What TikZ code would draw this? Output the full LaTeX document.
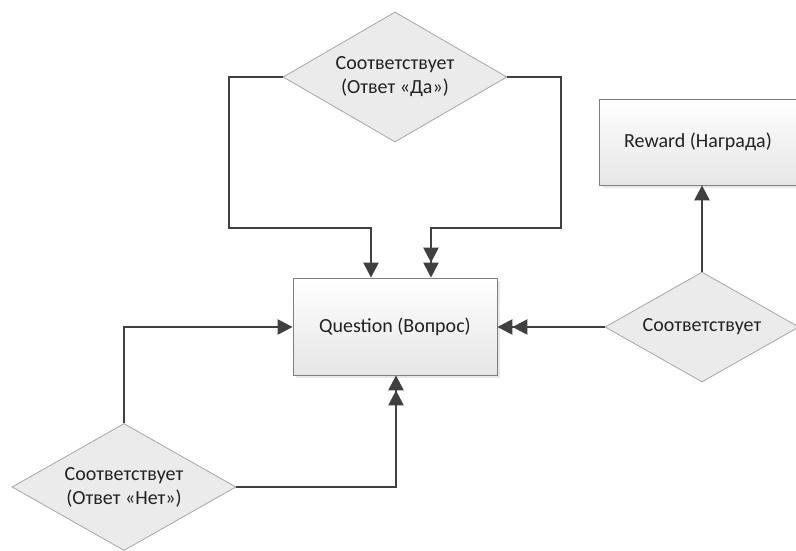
\documentclass[tikz,border=0pt]{standalone}
\usepackage{fontspec}
\setmainfont{Carlito}
\usetikzlibrary{shapes.geometric,arrows.meta,shadows}
\definecolor{linec}{HTML}{404040}
\definecolor{diafill}{HTML}{EBEBEB}
\definecolor{diadraw}{HTML}{A6A6A6}
\definecolor{boxdraw}{HTML}{7F7F7F}
\definecolor{textc}{HTML}{222222}
\tikzset{
  procbox/.style={draw=boxdraw, line width=0.8pt, top color=white, bottom color=black!10,
    drop shadow={shadow xshift=3pt, shadow yshift=-3pt, fill=black!15, opacity=0.6},
    text=textc, font=\fontsize{20}{24}\selectfont, align=center},
  decision/.style={diamond, aspect=2, draw=diadraw, fill=diafill, line width=0.8pt, inner sep=0pt,
    text=textc, font=\fontsize{20}{24}\selectfont, align=center},
  flow/.style={draw=linec, line width=2.4pt,
    -{Triangle[length=15pt,width=15pt]}},
  flowtwo/.style={draw=linec, line width=2.4pt,
    -{Triangle[length=15pt,width=15pt]Triangle[length=15pt,width=15pt]}},
}
\begin{document}
\begin{tikzpicture}[x=1pt,y=-1pt]
\useasboundingbox (0,0) rectangle (796,551);
\fill[white] (0,0) rectangle (796,551);

% boxes
\node[procbox, minimum width=204pt, minimum height=97pt] (question) at (395,326.5) {Question (Вопрос)};
\node[procbox, minimum width=197pt, minimum height=86pt] (reward) at (698,142) {Reward (Награда)};

% decisions
\node[decision, minimum width=224pt, minimum height=130pt] (yes) at (395,77) {Соответствует\\(Ответ «Да»)};
\node[decision, minimum width=194pt, minimum height=110pt] (match) at (702,327) {Соответствует};
\node[decision, minimum width=224pt, minimum height=127pt] (no) at (124,487) {Соответствует\\(Ответ «Нет»)};

% connectors
\draw[flow] (yes.west) -| (229,228) -| (question.north -| 371,0);
\draw[flowtwo] (yes.east) -| (561,228) -| (question.north -| 431,0);
\draw[flowtwo] (match.west) -- (question.east |- match.west);
\draw[flow] (match.north) -- (reward.south -| match.north);
\draw[flow] (no.north) |- (question.west |- 0,327);
\draw[flowtwo] (no.east) -| (question.south -| 396,0);
\end{tikzpicture}
\end{document}
